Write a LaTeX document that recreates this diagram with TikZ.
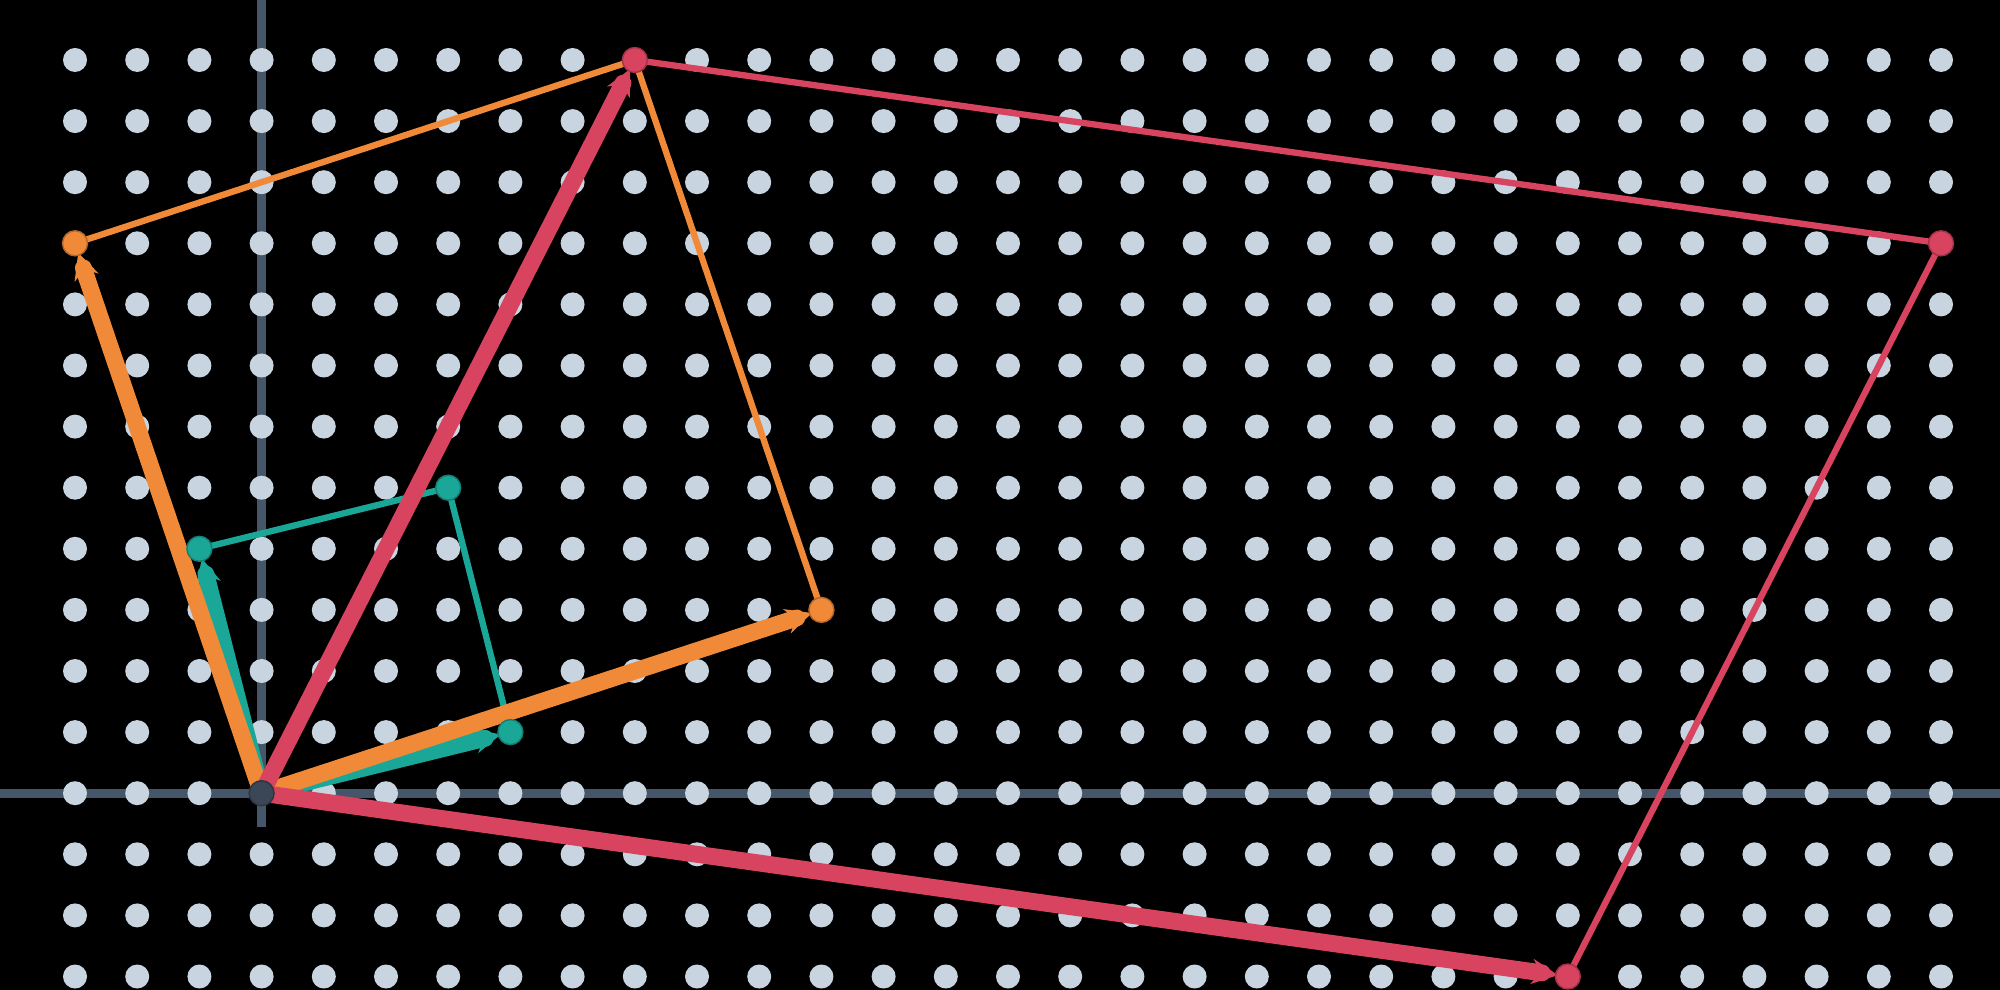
\documentclass[tikz,border=0pt]{standalone}
\usetikzlibrary{arrows.meta}
\usepackage{xcolor}
\definecolor{dotgray}{HTML}{C8D4DF}
\definecolor{axisgray}{HTML}{46566A}
\definecolor{origink}{HTML}{3B4756}
\definecolor{tealv}{HTML}{1AA797}
\definecolor{orangev}{HTML}{F08A38}
\definecolor{redv}{HTML}{D8435F}

\begin{document}
\begin{tikzpicture}[
  x=0.622cm, y=0.611cm,
  axis/.style={draw=axisgray, line width=2.6pt},
  vec/.style={line width=4.8pt, line cap=round,
              -{Stealth[length=2.6mm, width=2.5mm]}, shorten >=1mm},
  side/.style={line width=1.8pt, line cap=round},
  vdot/.style={circle, inner sep=0pt, minimum size=2.5mm,
               draw=#1!75!black, line width=0.4pt, fill=#1}
]
% frame and background
\useasboundingbox (-4.206,-3.213) rectangle (27.948,12.982);
\fill[black] (-4.206,-3.213) rectangle (27.948,12.982);

% axes
\coordinate (xl) at (-4.206,0);
\coordinate (xr) at (27.948,0);
\coordinate (yb) at (0,-0.55);
\coordinate (yt) at (0,12.982);
\draw[axis] (xl) -- (xr);
\draw[axis] (yb) -- (yt);

% dot grid
\foreach \x in {-3,...,27}
  \foreach \y in {-3,...,12}
    \fill[dotgray] (\x,\y) circle (1.2mm);

% corners
\coordinate (O) at (0,0);
\coordinate (t1) at (-1,4);
\coordinate (t2) at (4,1);
\coordinate (t3) at (3,5);
\coordinate (o1) at (-3,9);
\coordinate (o2) at (9,3);
\coordinate (o3) at (6,12);
\coordinate (r2) at (21,-3);
\coordinate (r3) at (27,9);

% teal
\draw[side, tealv] (t1) -- (t3);
\draw[side, tealv] (t2) -- (t3);
\draw[vec, tealv] (O) -- (t1);
\draw[vec, tealv] (O) -- (t2);

% orange
\draw[side, orangev] (o1) -- (o3);
\draw[side, orangev] (o2) -- (o3);
\draw[vec, orangev] (O) -- (o1);
\draw[vec, orangev] (O) -- (o2);

% red
\draw[side, redv] (o3) -- (r3);
\draw[side, redv] (r2) -- (r3);
\draw[vec, redv] (O) -- (o3);
\draw[vec, redv] (O) -- (r2);

% vertex dots
\node[vdot=tealv] (t1d) at (t1) {};
\node[vdot=tealv] (t2d) at (t2) {};
\node[vdot=tealv] (t3d) at (t3) {};
\node[vdot=orangev] (o1d) at (o1) {};
\node[vdot=orangev] (o2d) at (o2) {};
\node[vdot=redv] (o3d) at (o3) {};
\node[vdot=redv] (r2d) at (r2) {};
\node[vdot=redv] (r3d) at (r3) {};
\node[vdot=origink] (Od) at (O) {};
\end{tikzpicture}
\end{document}
